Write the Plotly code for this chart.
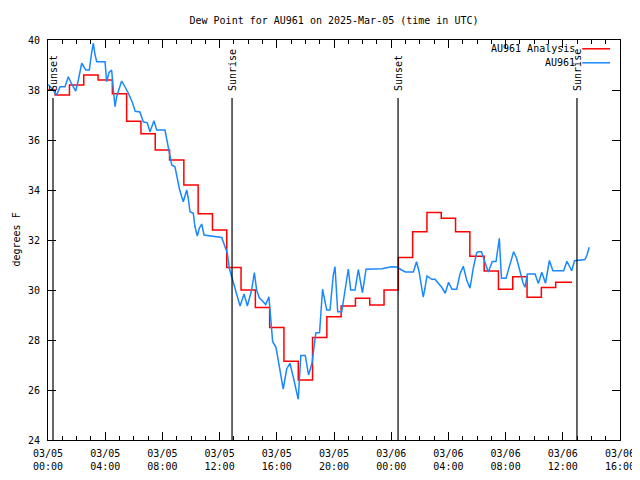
import pandas as pd
import plotly.graph_objects as go

# ---------------- data ----------------
start = pd.Timestamp("2025-03-05 00:00")

# analysis (hourly values, hours since 03/05 00:00 UTC)
red_h = [0, 1, 2, 3, 4, 5, 6, 7, 8, 9, 10, 11, 12, 13, 14, 15, 16, 17, 18, 19,
         20, 21, 22, 23, 24, 25, 26, 27, 28, 29, 30, 31, 32, 33, 34, 35, 36, 36.65]
red_v = [38.0, 37.8, 38.2, 38.6, 38.4, 37.85, 36.75, 36.25, 35.6, 35.2, 34.2, 33.05,
         32.4, 30.9, 30.0, 29.3, 28.5, 27.15, 26.4, 28.1, 28.93, 29.36, 29.67, 29.4,
         30.0, 31.3, 32.33, 33.1, 32.87, 32.33, 31.35, 30.76, 30.03, 30.53, 29.71,
         30.1, 30.31, 30.31]

# observations
blue_h = [0.0, 0.26, 0.61, 0.84, 1.19, 1.42, 1.66, 1.94, 2.12, 2.36, 2.64, 2.89, 3.06,
          3.17, 3.29, 3.41, 3.99, 4.1, 4.27, 4.45, 4.57, 4.69, 4.8, 5.15, 5.38, 5.62,
          5.9, 6.1, 6.43, 6.66, 6.94, 7.13, 7.41, 7.6, 8.18, 8.34, 8.48, 8.65, 8.88,
          9.0, 9.18, 9.35, 9.46, 9.7, 9.81, 9.93, 10.16, 10.28, 10.44, 10.58, 10.75,
          10.91, 12.15, 12.38, 12.54, 12.68, 12.85, 13.08, 13.31, 13.43, 13.71, 13.94,
          14.24, 14.43, 14.59, 14.78, 14.94, 15.22, 15.45, 15.57, 15.71, 15.94, 16.17,
          16.45, 16.69, 16.92, 17.15, 17.38, 17.5, 17.68, 17.99, 18.22, 18.46, 18.73,
          18.99, 19.2, 19.37, 19.49, 19.72, 19.95, 20.07, 20.19, 20.26, 20.54, 20.77,
          21.0, 21.17, 21.47, 21.7, 21.85, 21.99, 22.24, 23.34, 24.03, 24.41, 24.73,
          25.0, 25.55, 25.77, 25.94, 26.08, 26.24, 26.36, 26.5, 26.83, 27.06, 27.53,
          27.78, 28.01, 28.25, 28.58, 28.81, 29.04, 29.28, 29.51, 29.74, 29.97, 30.09,
          30.31, 30.56, 30.79, 31.07, 31.33, 31.56, 31.71, 32.03, 32.33, 32.56, 32.77,
          33.01, 33.22, 33.36, 33.52, 34.06, 34.29, 34.53, 34.79, 35.06, 35.31, 36.06,
          36.29, 36.62, 36.82, 37.55, 37.68, 37.85]
blue_v = [38.22, 38.07, 37.8, 38.13, 38.13, 38.53, 38.23, 37.96, 38.4, 39.07, 38.8, 38.8,
          39.53, 39.87, 39.4, 39.13, 39.13, 38.33, 38.7, 38.8, 38.0, 37.33, 37.73, 38.36,
          38.13, 37.87, 37.5, 37.15, 37.12, 36.73, 36.69, 36.33, 36.77, 36.4, 36.4,
          35.87, 35.4, 35.0, 34.93, 34.53, 34.07, 33.73, 33.53, 34.0, 33.67, 33.13,
          33.07, 32.53, 32.16, 32.47, 32.64, 32.2, 32.1, 31.73, 31.47, 30.87, 30.53,
          30.13, 29.63, 29.36, 29.84, 29.36, 30.0, 30.7, 30.0, 29.68, 29.6, 29.42,
          29.73, 28.84, 27.93, 27.72, 26.88, 26.04, 26.84, 27.07, 26.52, 25.92, 25.63,
          27.38, 27.38, 26.6, 27.07, 28.28, 28.3, 30.03, 29.6, 29.2, 29.2, 30.6, 30.93,
          30.0, 29.13, 29.13, 30.08, 30.84, 30.0, 30.0, 30.82, 30.32, 29.89, 30.83,
          30.85, 30.93, 30.92, 30.8, 30.72, 30.72, 31.13, 30.76, 30.2, 29.72, 30.07,
          30.56, 30.43, 30.43, 30.11, 29.87, 30.31, 30.03, 30.03, 30.64, 30.95, 30.4,
          30.07, 30.87, 31.48, 31.53, 31.53, 31.1, 30.72, 31.14, 31.14, 32.07, 30.47,
          30.47, 31.11, 31.53, 31.27, 30.68, 30.28, 30.11, 30.64, 30.64, 30.26, 30.71,
          30.27, 31.18, 30.77, 30.77, 31.15, 30.77, 31.17, 31.22, 31.38, 31.71]

# sun events (hours since 03/05 00:00 UTC)
event_h = [0.35, 12.87, 24.48, 36.99]
event_names = ["Sunset", "Sunrise", "Sunset", "Sunrise"]

tick_h = [0, 4, 8, 12, 16, 20, 24, 28, 32, 36, 40]
tick_text = ["03/05<br>00:00", "03/05<br>04:00", "03/05<br>08:00", "03/05<br>12:00",
             "03/05<br>16:00", "03/05<br>20:00", "03/06<br>00:00", "03/06<br>04:00",
             "03/06<br>08:00", "03/06<br>12:00", "03/06<br>16:00"]
y_ticks = [24, 26, 28, 30, 32, 34, 36, 38, 40]

series_names = ["AU961 Analysis", "AU961"]
series_colors = ["#ff0000", "#1a88ff"]


def t(hours):
    return [start + pd.Timedelta(hours=h) for h in hours]


FONT = "DejaVu Sans Mono"

fig = go.Figure()
fig.add_trace(go.Scatter(x=t(red_h), y=red_v, mode="lines", name=series_names[0],
                         line=dict(color=series_colors[0], width=1.5, shape="hvh"),
                         showlegend=False))
fig.add_trace(go.Scatter(x=t(blue_h), y=blue_v, mode="lines", name=series_names[1],
                         line=dict(color=series_colors[1], width=1.5),
                         showlegend=False))

shapes = []
annotations = []
for eh, name in zip(event_h, event_names):
    ex = start + pd.Timedelta(hours=eh)
    shapes.append(dict(type="line", xref="x", yref="paper", x0=ex, x1=ex, y0=0, y1=0.855,
                       line=dict(color="black", width=1.2)))
    annotations.append(dict(x=ex, y=0.8675, xref="x", yref="paper", text=name,
                            textangle=-90, showarrow=False, xanchor="center",
                            yanchor="bottom", xshift=1,
                            font=dict(family=FONT, size=10, color="black")))

# gnuplot-style legend (text then sample), top right
leg_y = [0.978, 0.943]
for name, col, ly in zip(series_names, series_colors, leg_y):
    annotations.append(dict(x=0.925, y=ly, xref="paper", yref="paper", text=name,
                            showarrow=False, xanchor="right", yanchor="middle",
                            font=dict(family=FONT, size=10, color="black")))
    shapes.append(dict(type="line", xref="paper", yref="paper", x0=0.934, x1=0.9825,
                       y0=ly, y1=ly, line=dict(color=col, width=1.5)))

annotations.append(dict(x=-40 / 572, y=0.5, xref="paper", yref="paper", text="degrees F",
                        textangle=-90, showarrow=False, xanchor="left", yanchor="middle",
                        font=dict(family=FONT, size=10, color="black")))

# the page adds an 8px body margin; the figure is sized to fit inside the window
fig.update_layout(
    width=632, height=472,
    margin=dict(l=40, r=20, t=32, b=40, autoexpand=False),
    paper_bgcolor="white", plot_bgcolor="white",
    font=dict(family=FONT, size=10, color="black"),
    title=dict(text="Dew Point for AU961 on 2025-Mar-05 (time in UTC)", x=0.5,
               xref="paper", y=1 - 12 / 472, yanchor="middle", xanchor="center",
               font=dict(family=FONT, size=10, color="black")),
    shapes=shapes, annotations=annotations,
)
fig.update_xaxes(
    range=[start, start + pd.Timedelta(hours=40)],
    tickmode="array", tickvals=t(tick_h), ticktext=tick_text,
    ticks="inside", ticklen=8, tickcolor="black", tickwidth=1,
    showline=True, linecolor="black", linewidth=1, mirror="ticks",
    showgrid=False, zeroline=False, ticklabelstandoff=4,
    minor=dict(tickmode="linear", tick0=start, dtick=3600000, ticks="inside",
               ticklen=4, tickcolor="black", showgrid=False),
    tickfont=dict(family=FONT, size=10, color="black"),
)
fig.update_yaxes(
    range=[24, 40], tickmode="array", tickvals=y_ticks,
    ticks="inside", ticklen=8, tickcolor="black", tickwidth=1,
    showline=True, linecolor="black", linewidth=1, mirror="ticks",
    showgrid=False, zeroline=False, ticklabelstandoff=5,
    tickfont=dict(family=FONT, size=10, color="black"),
)

fig.write_html("out.html")
